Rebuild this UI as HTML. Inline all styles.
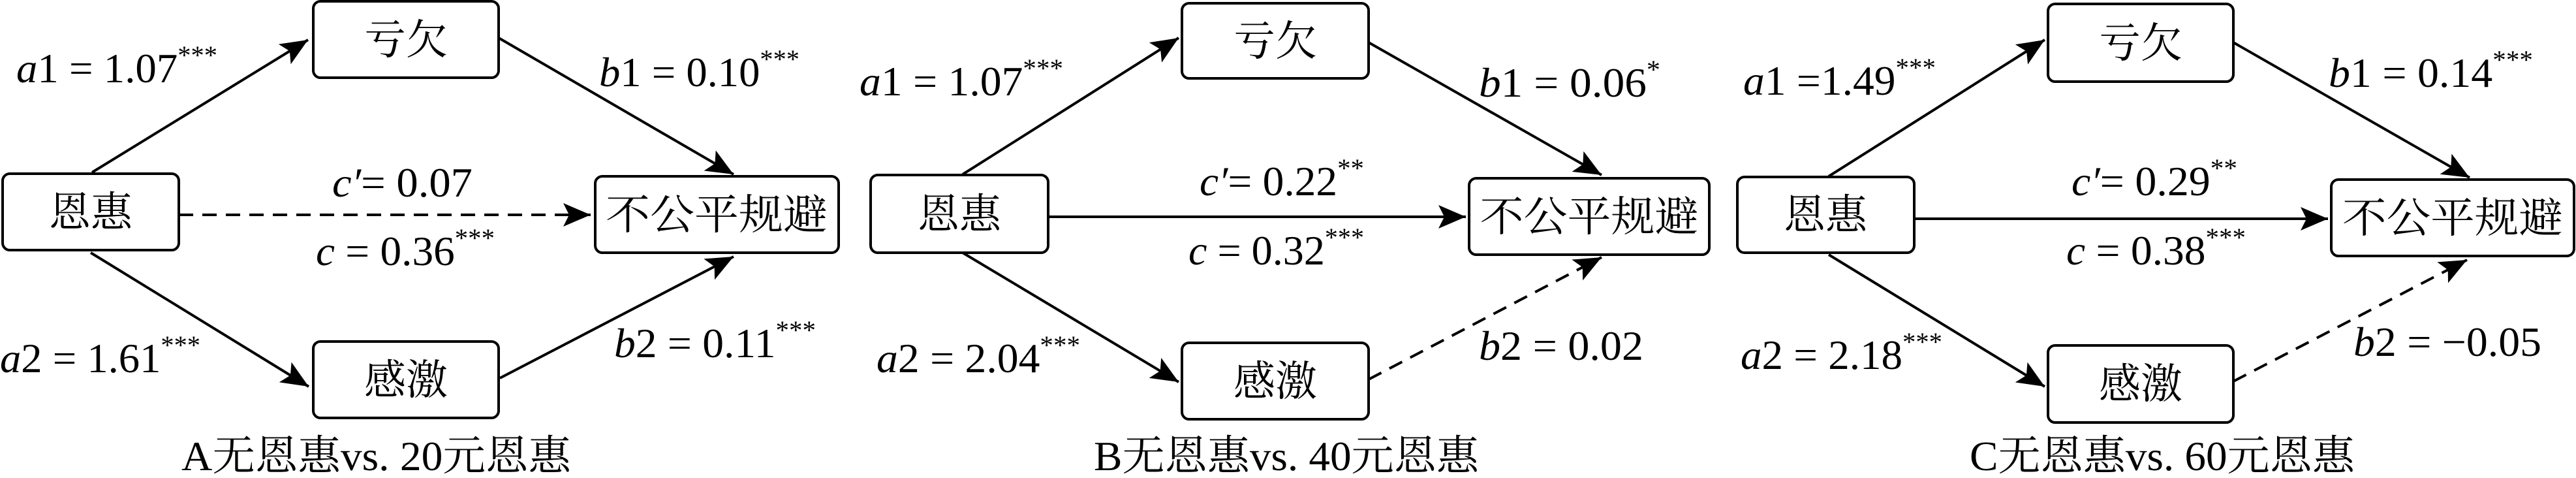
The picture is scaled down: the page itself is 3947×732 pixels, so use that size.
<!DOCTYPE html>
<html><head><meta charset="utf-8"><style>
html,body{margin:0;padding:0;background:#fff;}
svg{display:block;}
text{font-family:"Liberation Serif","Noto Serif CJK SC",serif;fill:#000;}
.n{font-family:"Noto Serif CJK SC","WenQuanYi Zen Hei",serif;font-size:64px;text-anchor:middle;}
.l{font-size:64px;}
.cap{font-size:64px;}
</style></head><body>
<svg width="3947" height="732" viewBox="0 0 3947 732" xmlns="http://www.w3.org/2000/svg">
<defs>
<marker id="ah" markerUnits="userSpaceOnUse" markerWidth="46" markerHeight="40" refX="42" refY="18" orient="auto">
<path d="M0,0 L42,18 L0,36 L9,18 Z" fill="#000"/>
</marker>
</defs>
<g stroke="#000" stroke-width="4" fill="none">
<rect x="4" y="266" width="270" height="117" rx="11"/>
<rect x="480" y="2" width="284" height="117" rx="11"/>
<rect x="480" y="523" width="284" height="117" rx="11"/>
<rect x="912" y="270" width="373" height="117" rx="11"/>
<rect x="1334" y="268" width="272" height="119" rx="11"/>
<rect x="1811" y="5" width="286" height="115" rx="11"/>
<rect x="1811" y="525" width="286" height="117" rx="11"/>
<rect x="2251" y="273" width="368" height="117" rx="11"/>
<rect x="2662" y="271" width="271" height="116" rx="11"/>
<rect x="3138" y="6" width="284" height="119" rx="11"/>
<rect x="3138" y="529" width="284" height="118" rx="11"/>
<rect x="3572" y="275" width="372" height="117" rx="11"/>
</g>
<g stroke="#000" stroke-width="4" fill="none" marker-end="url(#ah)">
<line x1="141" y1="264" x2="472" y2="61"/>
<line x1="764" y1="58" x2="1124" y2="267"/>
<line x1="274" y1="329" x2="905" y2="329" stroke-dasharray="22,14"/>
<line x1="139" y1="387" x2="473" y2="592"/>
<line x1="766" y1="579" x2="1124" y2="393"/>
<line x1="1475" y1="267" x2="1806" y2="58"/>
<line x1="2097" y1="65" x2="2454" y2="268"/>
<line x1="1606" y1="332" x2="2246" y2="332"/>
<line x1="1475" y1="387" x2="1806" y2="585"/>
<line x1="2097" y1="581" x2="2454" y2="394" stroke-dasharray="22,14"/>
<line x1="2802" y1="270" x2="3133" y2="61"/>
<line x1="3422" y1="65" x2="3784" y2="272"/>
<line x1="2933" y1="335" x2="3567" y2="335"/>
<line x1="2802" y1="390" x2="3133" y2="592"/>
<line x1="3422" y1="584" x2="3780" y2="398" stroke-dasharray="22,14"/>
</g>
<text class="n" x="139" y="347">恩惠</text>
<text class="n" x="622" y="83">亏欠</text>
<text class="n" x="622" y="604">感激</text>
<text class="n" x="1098" y="351" textLength="340" lengthAdjust="spacingAndGlyphs">不公平规避</text>
<text class="n" x="1470" y="350">恩惠</text>
<text class="n" x="1954" y="85">亏欠</text>
<text class="n" x="1954" y="606">感激</text>
<text class="n" x="2435" y="354" textLength="335" lengthAdjust="spacingAndGlyphs">不公平规避</text>
<text class="n" x="2797" y="351">恩惠</text>
<text class="n" x="3280" y="88">亏欠</text>
<text class="n" x="3280" y="610">感激</text>
<text class="n" x="3758" y="356" textLength="338" lengthAdjust="spacingAndGlyphs">不公平规避</text>

<text class="l" x="25" y="126" textLength="308" lengthAdjust="spacingAndGlyphs"><tspan font-style="italic">a</tspan>1 = 1.07<tspan font-size="40" dy="-28">***</tspan></text>
<text class="l" x="918" y="132" textLength="307" lengthAdjust="spacingAndGlyphs"><tspan font-style="italic">b</tspan>1 = 0.10<tspan font-size="40" dy="-28">***</tspan></text>
<text class="l" x="509" y="301" textLength="215" lengthAdjust="spacingAndGlyphs"><tspan font-style="italic">c′</tspan>= 0.07</text>
<text class="l" x="484" y="406" textLength="274" lengthAdjust="spacingAndGlyphs"><tspan font-style="italic">c</tspan> = 0.36<tspan font-size="40" dy="-28">***</tspan></text>
<text class="l" x="0" y="570" textLength="307" lengthAdjust="spacingAndGlyphs"><tspan font-style="italic">a</tspan>2 = 1.61<tspan font-size="40" dy="-28">***</tspan></text>
<text class="l" x="941" y="547" textLength="309" lengthAdjust="spacingAndGlyphs"><tspan font-style="italic">b</tspan>2 = 0.11<tspan font-size="40" dy="-28">***</tspan></text>
<text class="cap" x="278" y="720" textLength="597" lengthAdjust="spacingAndGlyphs">A无恩惠vs. 20元恩惠</text>

<text class="l" x="1317" y="146" textLength="312" lengthAdjust="spacingAndGlyphs"><tspan font-style="italic">a</tspan>1 = 1.07<tspan font-size="40" dy="-28">***</tspan></text>
<text class="l" x="2266" y="148" textLength="278" lengthAdjust="spacingAndGlyphs"><tspan font-style="italic">b</tspan>1 = 0.06<tspan font-size="40" dy="-28">*</tspan></text>
<text class="l" x="1838" y="299" textLength="252" lengthAdjust="spacingAndGlyphs"><tspan font-style="italic">c′</tspan>= 0.22<tspan font-size="40" dy="-28">**</tspan></text>
<text class="l" x="1821" y="405" textLength="269" lengthAdjust="spacingAndGlyphs"><tspan font-style="italic">c</tspan> = 0.32<tspan font-size="40" dy="-28">***</tspan></text>
<text class="l" x="1343" y="570" textLength="312" lengthAdjust="spacingAndGlyphs"><tspan font-style="italic">a</tspan>2 = 2.04<tspan font-size="40" dy="-28">***</tspan></text>
<text class="l" x="2266" y="551" textLength="252" lengthAdjust="spacingAndGlyphs"><tspan font-style="italic">b</tspan>2 = 0.02</text>
<text class="cap" x="1676" y="720" textLength="590" lengthAdjust="spacingAndGlyphs">B无恩惠vs. 40元恩惠</text>

<text class="l" x="2671" y="145" textLength="295" lengthAdjust="spacingAndGlyphs"><tspan font-style="italic">a</tspan>1 =1.49<tspan font-size="40" dy="-28">***</tspan></text>
<text class="l" x="3568" y="133" textLength="313" lengthAdjust="spacingAndGlyphs"><tspan font-style="italic">b</tspan>1 = 0.14<tspan font-size="40" dy="-28">***</tspan></text>
<text class="l" x="3174" y="299" textLength="254" lengthAdjust="spacingAndGlyphs"><tspan font-style="italic">c′</tspan>= 0.29<tspan font-size="40" dy="-28">**</tspan></text>
<text class="l" x="3166" y="405" textLength="275" lengthAdjust="spacingAndGlyphs"><tspan font-style="italic">c</tspan> = 0.38<tspan font-size="40" dy="-28">***</tspan></text>
<text class="l" x="2667" y="565" textLength="309" lengthAdjust="spacingAndGlyphs"><tspan font-style="italic">a</tspan>2 = 2.18<tspan font-size="40" dy="-28">***</tspan></text>
<text class="l" x="3606" y="545" textLength="288" lengthAdjust="spacingAndGlyphs"><tspan font-style="italic">b</tspan>2 = −0.05</text>
<text class="cap" x="3018" y="720" textLength="590" lengthAdjust="spacingAndGlyphs">C无恩惠vs. 60元恩惠</text>
</svg>
</body></html>
